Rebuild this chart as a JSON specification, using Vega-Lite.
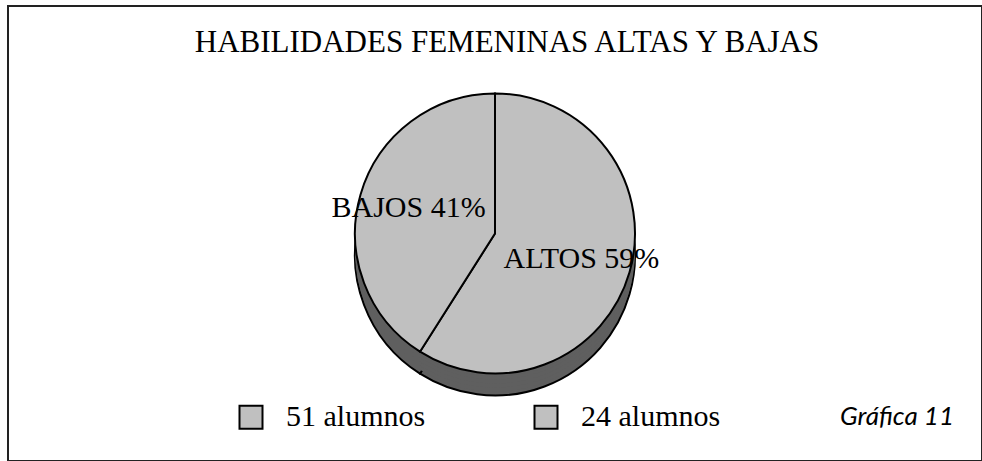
{
  "$schema": "https://vega.github.io/schema/vega-lite/v6.json",
  "width": 974,
  "height": 455,
  "autosize": {"type": "none"},
  "padding": {"left": 8, "top": 6, "right": 0, "bottom": 0},
  "background": "white",
  "view": {"stroke": "#222222", "strokeWidth": 2},
  "title": {
    "text": "HABILIDADES FEMENINAS ALTAS Y BAJAS",
    "font": "Liberation Serif",
    "fontSize": 31,
    "fontWeight": "normal",
    "color": "black",
    "anchor": "middle",
    "baseline": "alphabetic",
    "offset": -77,
    "dx": 12
  },
  "data": {
    "values": [
      {"grupo": "ALTOS", "etiqueta": "ALTOS 59%", "porcentaje": 59, "leyenda": "51 alumnos"},
      {"grupo": "BAJOS", "etiqueta": "BAJOS 41%", "porcentaje": 41, "leyenda": "24 alumnos"}
    ]
  },
  "encoding": {
    "theta": {"field": "porcentaje", "type": "quantitative", "stack": true},
    "order": {"field": "porcentaje", "type": "quantitative", "sort": "descending"}
  },
  "layer": [
    {"mark": {"type": "arc", "outerRadius": 140, "yOffset": 22, "fill": "#5f5f5f", "stroke": "black", "strokeWidth": 2}},
    {"mark": {"type": "arc", "outerRadius": 140, "yOffset": 18, "fill": "#5f5f5f", "strokeWidth": 0}},
    {"mark": {"type": "arc", "outerRadius": 140, "yOffset": 14, "fill": "#5f5f5f", "strokeWidth": 0}},
    {"mark": {"type": "arc", "outerRadius": 140, "yOffset": 10, "fill": "#5f5f5f", "strokeWidth": 0}},
    {"mark": {"type": "arc", "outerRadius": 140, "yOffset": 6, "fill": "#5f5f5f", "strokeWidth": 0}},
    {"mark": {"type": "arc", "outerRadius": 140, "yOffset": 3, "fill": "#5f5f5f", "strokeWidth": 0}},
    {
      "mark": {"type": "arc", "outerRadius": 140, "stroke": "black", "strokeWidth": 2, "opacity": 1},
      "encoding": {
        "color": {
          "field": "leyenda",
          "type": "nominal",
          "scale": {"domain": ["51 alumnos", "24 alumnos"], "range": ["#c0c0c0", "#c0c0c0"]},
          "legend": {
            "orient": "none",
            "legendX": 228,
            "legendY": 396,
            "direction": "horizontal",
            "padding": 0,
            "title": "Gráfica 11",
            "titleOrient": "right",
            "titleFont": "Lato",
            "titleFontStyle": "italic",
            "titleFontWeight": "normal",
            "titleFontSize": 26,
            "titleColor": "black",
            "titlePadding": 120,
            "titleLimit": 300,
            "titleBaseline": "middle",
            "symbolType": "square",
            "symbolSize": 529,
            "symbolStrokeColor": "black",
            "symbolStrokeWidth": 2,
            "symbolOpacity": 1,
            "labelFont": "Liberation Serif",
            "labelFontSize": 30,
            "labelColor": "black",
            "labelOffset": 20,
            "labelLimit": 400,
            "columnPadding": 104
          }
        }
      }
    },
    {
      "mark": {"type": "text", "radius": 90, "font": "Liberation Serif", "fontSize": 30, "color": "black"},
      "encoding": {"text": {"field": "etiqueta", "type": "nominal"}}
    }
  ]
}
